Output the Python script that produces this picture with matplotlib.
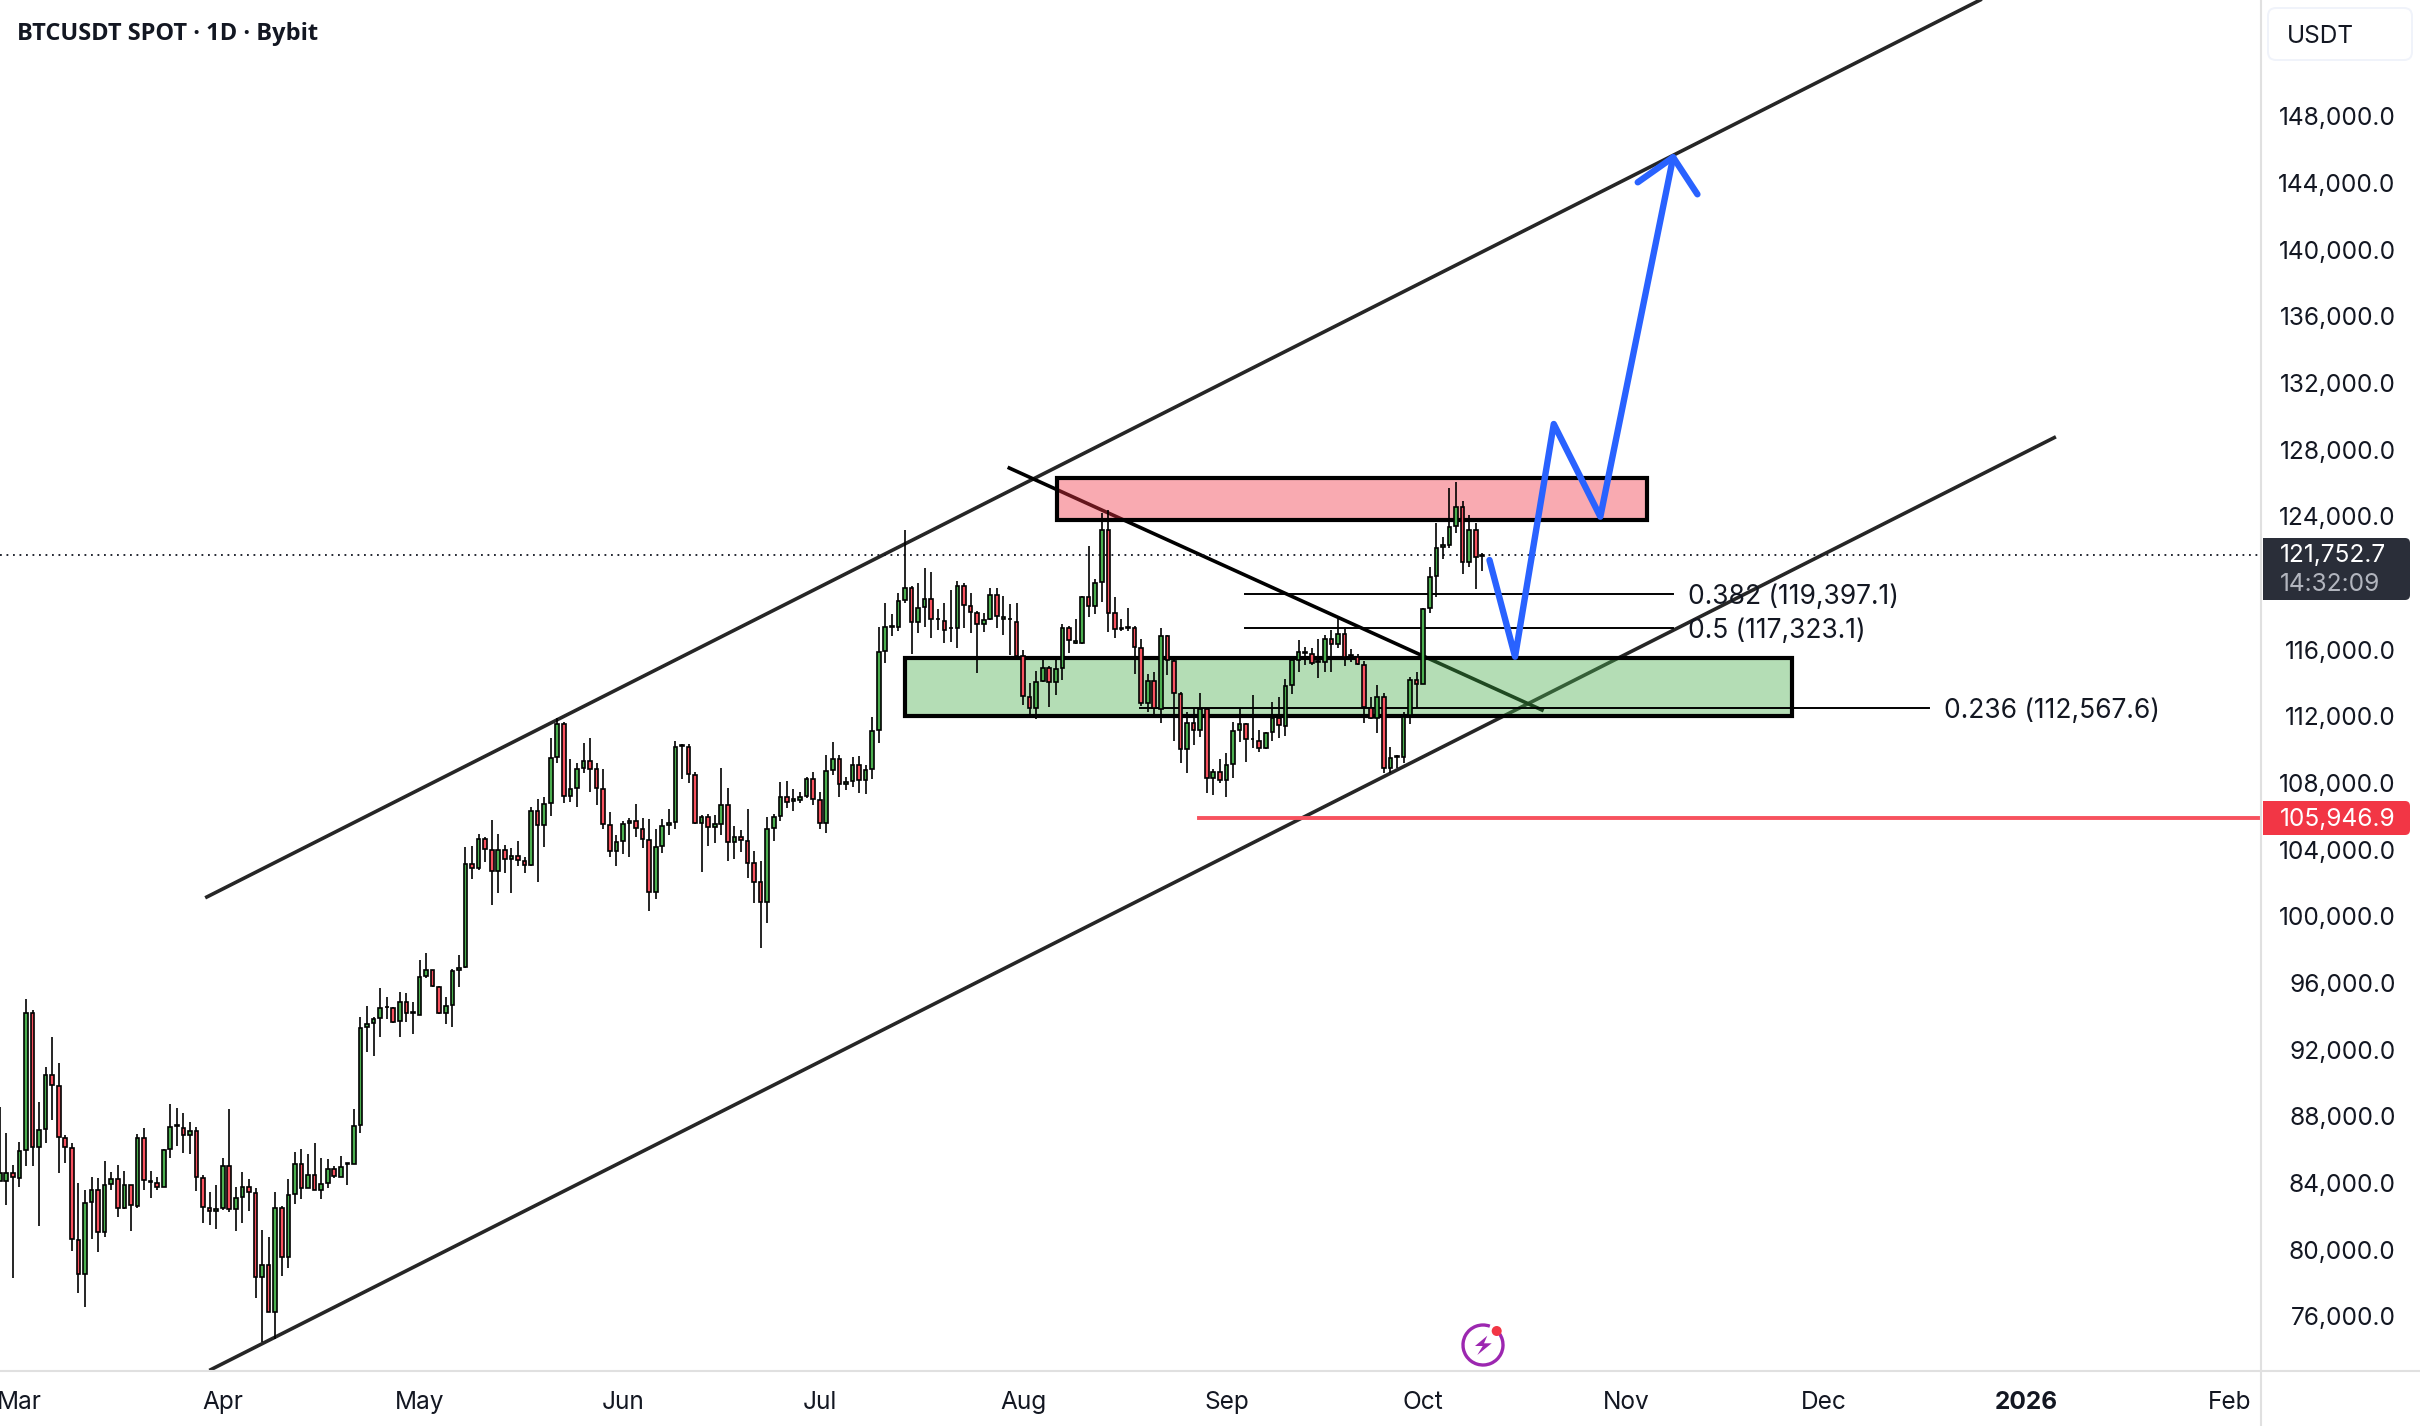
import matplotlib
matplotlib.use('Agg')
import matplotlib.pyplot as plt
import matplotlib.transforms as mtrans
import numpy as np
import pandas as pd
from matplotlib.patches import Rectangle, FancyBboxPatch, Circle, Polygon, Arc

# daily candles, first bar is 2025-02-26
first_day = '2025-02-26'

highs = [
    88630, 87030, 85130, 86530, 95070, 94430, 88930, 90990, 92790, 91230,
    86930, 86470, 84030, 83630, 84430, 84330, 85350, 84690, 85110, 84750,
    83930, 86970, 87370, 84790, 84430, 86070, 88770, 88530, 88230, 87730,
    87430, 84530, 83490, 83910, 85530, 88470, 83830, 84690, 84270, 83770,
    81230, 80830, 83530, 82690, 84270, 85890, 86070, 85770, 86430, 85530,
    85470, 85090, 85670, 85270, 88470, 93990, 94690, 93990, 95730, 95190,
    94590, 95530, 95430, 94930, 97430, 97830, 96830, 95870, 95190, 96870,
    97710, 104190, 104290, 104970, 104830, 105830, 104970, 104330, 104130, 104550,
    103630, 106590, 107070, 107230, 110730, 111930, 111730, 109470, 109270, 110430,
    110730, 109230, 108870, 106290, 104910, 105790, 105930, 106770, 105930, 105870,
    105270, 105870, 106470, 110590, 110370, 110370, 108730, 106130, 106170, 106130,
    108930, 107730, 105490, 105230, 106470, 103950, 103350, 105990, 106190, 108090,
    108190, 107670, 107490, 108430, 108730, 107490, 109710, 110490, 109710, 108390,
    109630, 109650, 109150, 111990, 117430, 118830, 118170, 119430, 123230, 119890,
    120030, 120930, 120730, 118470, 118830, 119630, 120150, 120030, 119430, 118390,
    118230, 119730, 119730, 119270, 118790, 118830, 116030, 114030, 114770, 115430,
    115090, 115430, 117590, 117470, 117870, 119270, 122270, 120270, 124270, 124430,
    119190, 117870, 118530, 117470, 116670, 114570, 114730, 117330, 116950, 115470,
    113530, 112290, 112530, 113430, 112530, 108870, 109470, 109830, 111730, 112530,
    111630, 113330, 111230, 111090, 112890, 113230, 114270, 115630, 116630, 116230,
    116130, 116670, 116910, 117230, 117930, 117390, 116090, 115770, 115350, 113230,
    113930, 113430, 110230, 109730, 112290, 114390, 114730, 118570, 120990, 123670,
    122790, 125730, 126130, 124990, 124130, 123670, 121860,
]

body_tops = [
    84630, 84630, 84670, 85970, 94230, 94230, 87230, 90530, 90530, 89870,
    86770, 86170, 80630, 82870, 83630, 83630, 83930, 84290, 84290, 83930,
    83930, 86770, 86770, 84190, 84070, 86030, 87430, 87510, 87370, 87170,
    87190, 84370, 82570, 82510, 85090, 85090, 83170, 83830, 83830, 83470,
    79150, 79150, 82570, 82570, 83350, 85190, 85190, 84530, 84530, 83990,
    84890, 84890, 85030, 85230, 87470, 93370, 93590, 93910, 94570, 94630,
    94570, 94910, 94910, 94290, 96430, 96830, 96830, 95830, 94690, 96790,
    96970, 103210, 103210, 104690, 104690, 104030, 104030, 104030, 103670, 103670,
    103370, 106370, 106370, 106790, 109570, 111590, 111590, 107710, 108910, 109390,
    109390, 108870, 107710, 105550, 104530, 105590, 105790, 105790, 105310, 104650,
    104230, 105490, 105670, 110230, 110310, 110230, 108550, 106030, 106030, 105570,
    106730, 106730, 104830, 104830, 104590, 103230, 102090, 105310, 106030, 107230,
    107230, 107090, 107230, 108310, 108310, 107030, 108790, 109510, 109510, 108130,
    109150, 109150, 108850, 111190, 115930, 117430, 117490, 118990, 119770, 119770,
    118570, 119090, 119090, 117910, 117790, 117370, 119890, 119890, 118690, 118250,
    117830, 119330, 119330, 117990, 117910, 117730, 115670, 113210, 114130, 114970,
    114970, 114910, 117370, 117370, 116570, 119210, 119210, 120070, 123230, 123230,
    118230, 117370, 117430, 117370, 116170, 114170, 114170, 116870, 116870, 115390,
    113410, 111670, 111670, 112470, 112470, 108730, 108730, 109150, 111190, 111610,
    111590, 110710, 110590, 111070, 111950, 111950, 113890, 115410, 115910, 115910,
    115810, 115370, 116710, 116690, 117010, 117010, 115710, 115630, 115150, 112550,
    113210, 113210, 109570, 109650, 112030, 114250, 114230, 118510, 120430, 122170,
    122310, 123430, 124590, 124590, 123230, 123230, 121752.7,
]

body_bottoms = [
    84190, 84190, 84390, 84350, 86030, 86230, 86230, 87290, 89930, 86830,
    86230, 80690, 78590, 78590, 82910, 81110, 81090, 83990, 82530, 82530,
    82730, 82690, 84230, 84090, 83790, 83790, 86090, 87450, 86910, 86910,
    84390, 82590, 82390, 82390, 82530, 82470, 82490, 83210, 83510, 78430,
    78430, 76310, 76310, 79630, 79630, 83390, 83770, 83770, 83630, 83630,
    84070, 84470, 84430, 85190, 85190, 87530, 93410, 93650, 93950, 94590,
    93710, 93750, 94270, 94230, 94130, 96450, 95870, 94230, 94230, 94730,
    96830, 96990, 102950, 102930, 104090, 102770, 102770, 103510, 103510, 103430,
    103150, 103130, 105550, 105530, 106830, 109590, 107270, 107270, 107750, 108950,
    108890, 107730, 105590, 103970, 103970, 104570, 105630, 105350, 104690, 101510,
    101510, 104270, 105530, 105690, 110250, 108570, 105630, 105630, 105410, 105410,
    105590, 104490, 104510, 104630, 103230, 102110, 100910, 100910, 105350, 106050,
    106890, 106990, 107030, 107250, 107070, 105630, 105630, 108810, 107990, 107990,
    108150, 108230, 108230, 108890, 111230, 115970, 117430, 117430, 119030, 117730,
    117730, 118590, 117890, 117870, 117230, 117330, 117370, 118730, 118310, 117590,
    117590, 117890, 118070, 117890, 117870, 115690, 113290, 112530, 112530, 114170,
    114110, 114090, 114950, 116630, 116430, 116450, 118670, 118690, 120110, 118230,
    117290, 117310, 117370, 116210, 112830, 112870, 112530, 112490, 115430, 113470,
    110090, 110090, 111210, 111230, 108350, 108350, 108230, 108230, 109190, 111230,
    110690, 110670, 110130, 110130, 111110, 111510, 111490, 113930, 115430, 115830,
    115230, 115330, 115330, 116390, 116410, 115630, 115670, 115190, 112610, 111970,
    111950, 108930, 108930, 109610, 109630, 112130, 113990, 113990, 118530, 120450,
    122190, 122310, 123470, 121310, 121310, 121590, 121680,
]

lows = [
    84190, 82730, 78330, 83830, 85090, 85090, 81490, 86430, 87830, 84670,
    85270, 79990, 77470, 76630, 80670, 79930, 80830, 83630, 82030, 82470,
    81190, 82570, 83630, 83170, 83630, 83790, 85570, 86290, 85870, 85790,
    83590, 81670, 81530, 81310, 82430, 82330, 81190, 81670, 82390, 77170,
    74530, 76310, 74670, 78490, 78970, 82790, 83070, 83730, 83630, 83110,
    83770, 84330, 84390, 83930, 85190, 87070, 91930, 91690, 92830, 93890,
    93630, 92830, 93730, 92970, 94130, 96370, 95790, 94190, 93570, 93390,
    95790, 96930, 102310, 102830, 103330, 100750, 101430, 102630, 101430, 103090,
    102630, 103090, 102090, 104190, 106090, 109230, 106830, 106890, 106590, 108670,
    107530, 106750, 105310, 103630, 103090, 103770, 103630, 104830, 104170, 100390,
    101110, 103870, 104930, 105310, 108310, 108030, 105590, 102690, 104290, 104470,
    104930, 103390, 103490, 103930, 102370, 100870, 98170, 99630, 104590, 105790,
    106570, 106390, 106830, 107170, 106750, 105270, 105070, 108550, 107230, 107630,
    107830, 107470, 107390, 108310, 110470, 115230, 116890, 117190, 118870, 115770,
    117030, 117430, 116770, 117230, 116470, 116530, 116130, 117330, 117070, 114670,
    117130, 117830, 117370, 116930, 115730, 115630, 112730, 112030, 111890, 114130,
    112630, 113330, 114230, 115870, 116370, 116410, 118030, 118190, 118930, 117130,
    116770, 117190, 117190, 114590, 112670, 112330, 112130, 111670, 114530, 110590,
    109270, 108670, 110330, 110830, 107470, 107330, 108070, 107230, 108370, 110530,
    109330, 110170, 109930, 110110, 110590, 110770, 110870, 113390, 114730, 115130,
    115130, 114370, 114730, 114730, 116130, 115090, 115290, 115130, 111630, 111890,
    111030, 108630, 108630, 108930, 109230, 111570, 112530, 113970, 118270, 119230,
    121510, 122130, 123070, 120610, 121030, 119670, 120800,
]

# G = up day, R = down day
directions = (
    "GGRGGRGGRR" "RRRGGRGGRG" "RGRRRGGGRG" "RRRGGRGGRR" "GRGRGGRGRG"
    "GRGGGGGGGG" "RGRGGGRRGG" "GGRGRRGRGR" "RGRGGGRGGG" "RRRRGGGRRR"
    "GGGGGRRGRG" "GRGRRRRGGG" "RGGGRRGGRG" "GRGGGGGGGR" "GGRGRGGRRR"
    "GGRGGRRRGG" "RGGRGGRGGR" "RGGRRGRGRR" "RGRGRGRGGG" "RGRGGRGGGG"
    "RGGRGRGRRR" "GRGGGGRGGG" "GGGRGRG"
)

last_price = 121752.7
countdown = '14:32:09'
stop_price = 105946.9

# 120,000 has no label, the last price tag takes its place
price_ticks = [76000, 80000, 84000, 88000, 92000, 96000, 100000, 104000, 108000, 112000,
               116000, 124000, 128000, 132000, 136000, 140000, 144000, 148000]
month_ticks = ['2025-03-01', '2025-04-01', '2025-05-01', '2025-06-01', '2025-07-01', '2025-08-01',
               '2025-09-01', '2025-10-01', '2025-11-01', '2025-12-01', '2026-01-01', '2026-02-01']
month_labels = ['Mar', 'Apr', 'May', 'Jun', 'Jul', 'Aug', 'Sep', 'Oct', 'Nov', 'Dec', '2026', 'Feb']

# drawings, x is days since first_day, y is price
upper_channel_x = [31.57, 301.9]
upper_channel_y = [101212, 155032]
lower_channel_x = [32.2, 313.2]
lower_channel_y = [72856, 128776]
trend_x = [153.9, 235.1]
trend_y = [126952, 112432]

supply_x = [161.2, 251.1]
supply_y = [123802, 126352]
demand_x = [138.0, 273.2]
demand_y = [112072, 115552]

fib_ratios = ['0.382', '0.5', '0.236']
fib_prices = [119397.1, 117323.1, 112567.6]
fib_start = [189.9, 189.9, 173.9]
fib_end = [255.1, 255.1, 294.1]
fib_text_x = [257.4, 257.4, 296.4]

stop_start = 182.8

path_x = [227.1, 231.0, 236.9, 244.0, 255.1]
path_y = [121432, 115630, 129592, 124030, 145594]
arrow_x = [249.7, 255.1, 258.8]
arrow_y = [144094, 145594, 143374]

GREEN = '#4CAF50'
RED = '#F7525F'
INK = '#131722'
BLUE = '#2962FF'
AXIS_FONT = 17.6
plt.rcParams['font.family'] = ['Inter', 'DejaVu Sans']

fig = plt.figure(figsize=(24.2, 14.26), dpi=100)
ax = fig.add_axes([0, 1 - 1370 / 1426, 2261 / 2420, 1370 / 1426])

x = np.arange(len(highs))
start = pd.Timestamp(first_day)
tick_x = [(pd.Timestamp(d) - start).days for d in month_ticks]

# channel and trend sit under the zones, candles on top of them
ax.plot(upper_channel_x, upper_channel_y, color='black', alpha=0.85, lw=2.6, zorder=1)
ax.plot(lower_channel_x, lower_channel_y, color='black', alpha=0.85, lw=2.6, zorder=1)
ax.plot(trend_x, trend_y, color='black', lw=2.6, zorder=1)

for zx, zy, col in [(supply_x, supply_y, '#F23645'), (demand_x, demand_y, GREEN)]:
    fill = matplotlib.colors.to_rgba(col, 0.42)
    ax.add_patch(Rectangle((zx[0], zy[0]), zx[1] - zx[0], zy[1] - zy[0],
                           facecolor=fill, edgecolor='black', lw=3.0, zorder=2))

ax.axhline(last_price, color=INK, lw=1.3, linestyle=(0, (1, 2.6)), zorder=2.5)

for ratio, price, x0, x1, tx in zip(fib_ratios, fib_prices, fib_start, fib_end, fib_text_x):
    ax.plot([x0, x1], [price, price], color='black', lw=1.4, zorder=2.6)
    ax.text(tx, price, f'{ratio} ({price:,.1f})', color=INK, fontsize=19,
            va='center_baseline', ha='left', zorder=6)

# candles
ax.vlines(x, lows, highs, color='black', lw=1.2, zorder=3)
fills = [GREEN if d == 'G' else RED for d in directions]
heights = np.array(body_tops) - np.array(body_bottoms)
ax.bar(x, heights, bottom=body_bottoms, width=0.55, color=fills, edgecolor='black', lw=1.2, zorder=4)

ax.plot([stop_start, 345], [stop_price, stop_price], color=RED, lw=2.8, zorder=5)

ax.plot(path_x, path_y, color=BLUE, lw=4.6, solid_capstyle='round', solid_joinstyle='round', zorder=7)
ax.plot(arrow_x, arrow_y, color=BLUE, lw=4.6, solid_capstyle='round', solid_joinstyle='round', zorder=7)

ax.set_xlim(0.3 / 6.56, 2261.3 / 6.56)
ax.set_ylim(72832, 155032)

ax.yaxis.tick_right()
ax.set_yticks(price_ticks)
ax.set_yticklabels([f'{p:,.1f}' for p in price_ticks], fontsize=AXIS_FONT, color=INK, ha='right')
ax.tick_params(axis='y', length=0, pad=97)
ax.set_xticks(tick_x)
ax.set_xticklabels(month_labels, fontsize=AXIS_FONT, color=INK)
ax.tick_params(axis='x', length=0, pad=15)
for lab in ax.get_xticklabels():
    if lab.get_text() == '2026':
        lab.set_fontweight('bold')
# labels sit a pixel above their level
nudge = mtrans.ScaledTranslation(0, 1 / 100, fig.dpi_scale_trans)
for lab in ax.get_yticklabels():
    lab.set_transform(lab.get_transform() + nudge)
for s in ax.spines.values():
    s.set_visible(False)

# pane furniture is drawn in figure pixels on an overlay
ui = fig.add_axes([0, 0, 1, 1])
ui.set_xlim(0, 2420)
ui.set_ylim(1426, 0)
ui.axis('off')
ui.patch.set_alpha(0)

ui.plot([2261, 2261], [0, 1426], color='#E0E0E0', lw=1.5)
ui.plot([0, 2420], [1371, 1371], color='#E0E0E0', lw=1.5)

ui.text(17, 31, 'BTCUSDT SPOT · 1D · Bybit', color=INK, fontsize=17, fontweight='bold',
        family=['Open Sans', 'DejaVu Sans'], va='center_baseline', ha='left')

ui.add_patch(FancyBboxPatch((2268, 8), 144, 52, boxstyle='round,pad=0,rounding_size=8',
                            facecolor='white', edgecolor='#F0F3FA', lw=1.4))
ui.text(2287, 34, 'USDT', color=INK, fontsize=AXIS_FONT, va='center_baseline', ha='left')


def price_tag(top, bottom, col):
    ui.add_patch(FancyBboxPatch((2263, top), 147, bottom - top, boxstyle='round,pad=0,rounding_size=5',
                                facecolor=col, edgecolor='none', zorder=3))
    ui.add_patch(Rectangle((2263, top), 10, bottom - top, facecolor=col, edgecolor='none', zorder=3))


price_tag(538, 600, '#2A2E39')
ui.text(2280, 553, f'{last_price:,.1f}', color='white', fontsize=AXIS_FONT, va='center_baseline', ha='left', zorder=4)
ui.text(2280, 582, countdown, color='#B2B5BE', fontsize=AXIS_FONT, va='center_baseline', ha='left', zorder=4)
price_tag(801, 835, '#F23645')
ui.text(2280, 817, f'{stop_price:,.1f}', color='white', fontsize=AXIS_FONT, va='center_baseline', ha='left', zorder=4)

# lightning badge above the time axis
ui.add_patch(Arc((1483, 1345), 40, 40, theta1=-35, theta2=290, color='#9C27B0', lw=2.4))
ui.add_patch(Polygon([(1487.3, 1335.7), (1475, 1346), (1482.7, 1346), (1477.3, 1355),
                      (1491.7, 1343.3), (1484, 1343.3)], closed=True, facecolor='#9C27B0', edgecolor='none'))
ui.add_patch(Circle((1496.7, 1331), 5, facecolor='#F23645', edgecolor='none'))

fig.savefig('out.png', dpi=100)
